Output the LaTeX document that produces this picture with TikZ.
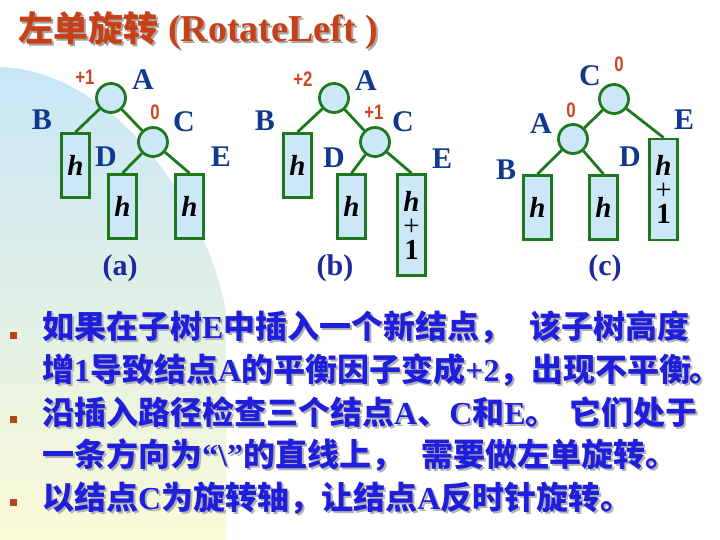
\documentclass[tikz,border=0pt]{standalone}
\usepackage{fontspec}
\setmainfont{Liberation Serif}
\newfontfamily\cjk{Noto Sans CJK SC}
\newfontfamily\factfont{Liberation Sans}[FakeStretch=0.8]

\definecolor{treegreen}{RGB}{30,120,30}
\definecolor{nodefill}{RGB}{204,232,248}
\definecolor{labelnavy}{RGB}{16,56,140}
\definecolor{factred}{RGB}{208,70,30}
\definecolor{titlered}{RGB}{200,64,24}
\definecolor{textblue}{RGB}{30,30,220}
\definecolor{capblue}{RGB}{30,40,160}
\definecolor{bgblue}{RGB}{200,230,248}
\definecolor{bgyellow}{RGB}{250,250,214}
\definecolor{bulletred}{RGB}{180,70,30}

% latin letters inside the chinese lines
\newcommand{\lt}[1]{{\rmfamily #1}}

\begin{document}
\begin{tikzpicture}[x=1pt, y=-1pt,
    avl/.style={circle, draw=treegreen, line width=2.8pt, fill=nodefill, minimum size=29pt, inner sep=0pt},
    subtree/.style={rectangle, draw=treegreen, line width=2.8pt, fill=nodefill, minimum width=28pt, minimum height=64pt,
        inner sep=0pt, align=center, text=black, font=\bfseries\fontsize{29}{24}\selectfont},
    tallsubtree/.style={subtree, minimum height=101pt},
    link/.style={draw=treegreen, line width=2.8pt},
    letter/.style={text=labelnavy, font=\bfseries\fontsize{30}{30}\selectfont},
    factor/.style={text=factred, font=\factfont\bfseries\fontsize{21}{21}\selectfont},
    caption/.style={text=capblue, font=\bfseries\fontsize{30}{30}\selectfont},
    titletext/.style={anchor=west, inner sep=0pt, font=\bfseries},
    linetext/.style={anchor=west, inner sep=0pt, font=\cjk\bfseries\fontsize{32}{32}\selectfont},
    bulletbox/.style={fill=bulletred, minimum size=7pt, inner sep=0pt}]
    \useasboundingbox (0,0) rectangle (720,540);

    % FONS
    \fill[white] (0,0) rectangle (720,540);
    \shade[top color=bgblue, middle color=bgblue!50!bgyellow, bottom color=bgyellow]
        (0,67) .. controls (110,70) and (205,200) .. (226,311) -- (226,540) -- (0,540) -- cycle;

    % TITOL
    \node[titletext, text=gray!70] (titleshd) at (20,33) {{\cjk\fontsize{35}{35}\selectfont 左单旋转}\hspace{10pt}\fontsize{38}{38}\selectfont(RotateLeft )};
    \node[titletext, text=titlered] (title) at (18,31) {{\cjk\fontsize{35}{35}\selectfont 左单旋转}\hspace{10pt}\fontsize{38}{38}\selectfont(RotateLeft )};

    % ARBRE (a)
    \node[avl] (aA) at (111,98) {};
    \node[avl] (aC) at (153,142) {};
    \node[subtree] (aB) at (75.5,165.5) {\itshape h};
    \node[subtree] (aD) at (122.5,206.5) {\itshape h};
    \node[subtree] (aE) at (189.5,206.5) {\itshape h};
    \draw[link] (aA) -- (aB.north);
    \draw[link] (aA) -- (aC);
    \draw[link] (aC) -- (aD.north);
    \draw[link] (aC) -- (aE.north);
    \node[factor] (aAf) at (85,77) {+1};
    \node[letter] (aAl) at (143,80) {A};
    \node[factor] (aCf) at (155,112) {0};
    \node[letter] (aCl) at (184,122) {C};
    \node[letter] (aBl) at (42,120) {B};
    \node[letter] (aDl) at (106,157) {D};
    \node[letter] (aEl) at (221,157) {E};
    \node[caption] (capa) at (120,268) {(a)};

    % ARBRE (b)
    \node[avl] (bA) at (334,98) {};
    \node[avl] (bC) at (375,142) {};
    \node[subtree] (bB) at (297.5,165.5) {\itshape h};
    \node[subtree] (bD) at (351.5,206.5) {\itshape h};
    \node[tallsubtree] (bE) at (411.5,225) {{\itshape h}\\{\mdseries +}\\1};
    \draw[link] (bA) -- (bB.north);
    \draw[link] (bA) -- (bC);
    \draw[link] (bC) -- (bD.north);
    \draw[link] (bC) -- (bE.north);
    \node[factor] (bAf) at (303,79) {+2};
    \node[letter] (bAl) at (366,81) {A};
    \node[factor] (bCf) at (374,112) {+1};
    \node[letter] (bCl) at (403,122) {C};
    \node[letter] (bBl) at (265,121) {B};
    \node[letter] (bDl) at (334,158) {D};
    \node[letter] (bEl) at (442,159) {E};
    \node[caption] (capb) at (335,268) {(b)};

    % ARBRE (c)
    \node[avl] (cC) at (614,99) {};
    \node[avl] (cA) at (573,139) {};
    \node[subtree] (cB) at (537.5,207.5) {\itshape h};
    \node[subtree] (cD) at (603.5,207.5) {\itshape h};
    \node[tallsubtree] (cE) at (663.5,189.5) {{\itshape h}\\{\mdseries +}\\1};
    \draw[link] (cC) -- (cA);
    \draw[link] (cC) -- (cE.north);
    \draw[link] (cA) -- (cB.north);
    \draw[link] (cA) -- (cD.north);
    \node[factor] (cCf) at (619,64) {0};
    \node[letter] (cCl) at (590,76) {C};
    \node[factor] (cAf) at (571,110) {0};
    \node[letter] (cAl) at (541,124) {A};
    \node[letter] (cBl) at (506,170) {B};
    \node[letter] (cDl) at (630,157) {D};
    \node[letter] (cEl) at (684,120) {E};
    \node[caption] (capc) at (605,268) {(c)};

    % PUNTS I TEXT
    \foreach \n/\y in {1/335, 2/419, 3/502}
        \node[bulletbox] (bul\n) at (13,\y) {};
    \foreach \n/\y/\t in {
        1/327/{如果在子树\lt{E}中插入一个新结点，\hspace{18pt}该子树高度},
        2/370/{增\lt{1}导致结点\lt{A}的平衡因子变成\lt{+2}，出现不平衡\kern-2pt。\kern-8pt},
        3/412/{沿插入路径检查三个结点\lt{A}、\lt{C}和\lt{E}。\hspace{12pt}它们处于},
        4/455/{一条方向为\lt{“\textbackslash”}的直线上，\hspace{18pt}需要做左单旋转。},
        5/498/{以结点\lt{C}为旋转轴，让结点\lt{A}反时针旋转。}
    } {
        \node[linetext, text=gray!60] (shd\n) at (44,{\y+2}) {\t};
        \node[linetext, text=textblue] (line\n) at (42,\y) {\t};
    }

\end{tikzpicture}
\end{document}
